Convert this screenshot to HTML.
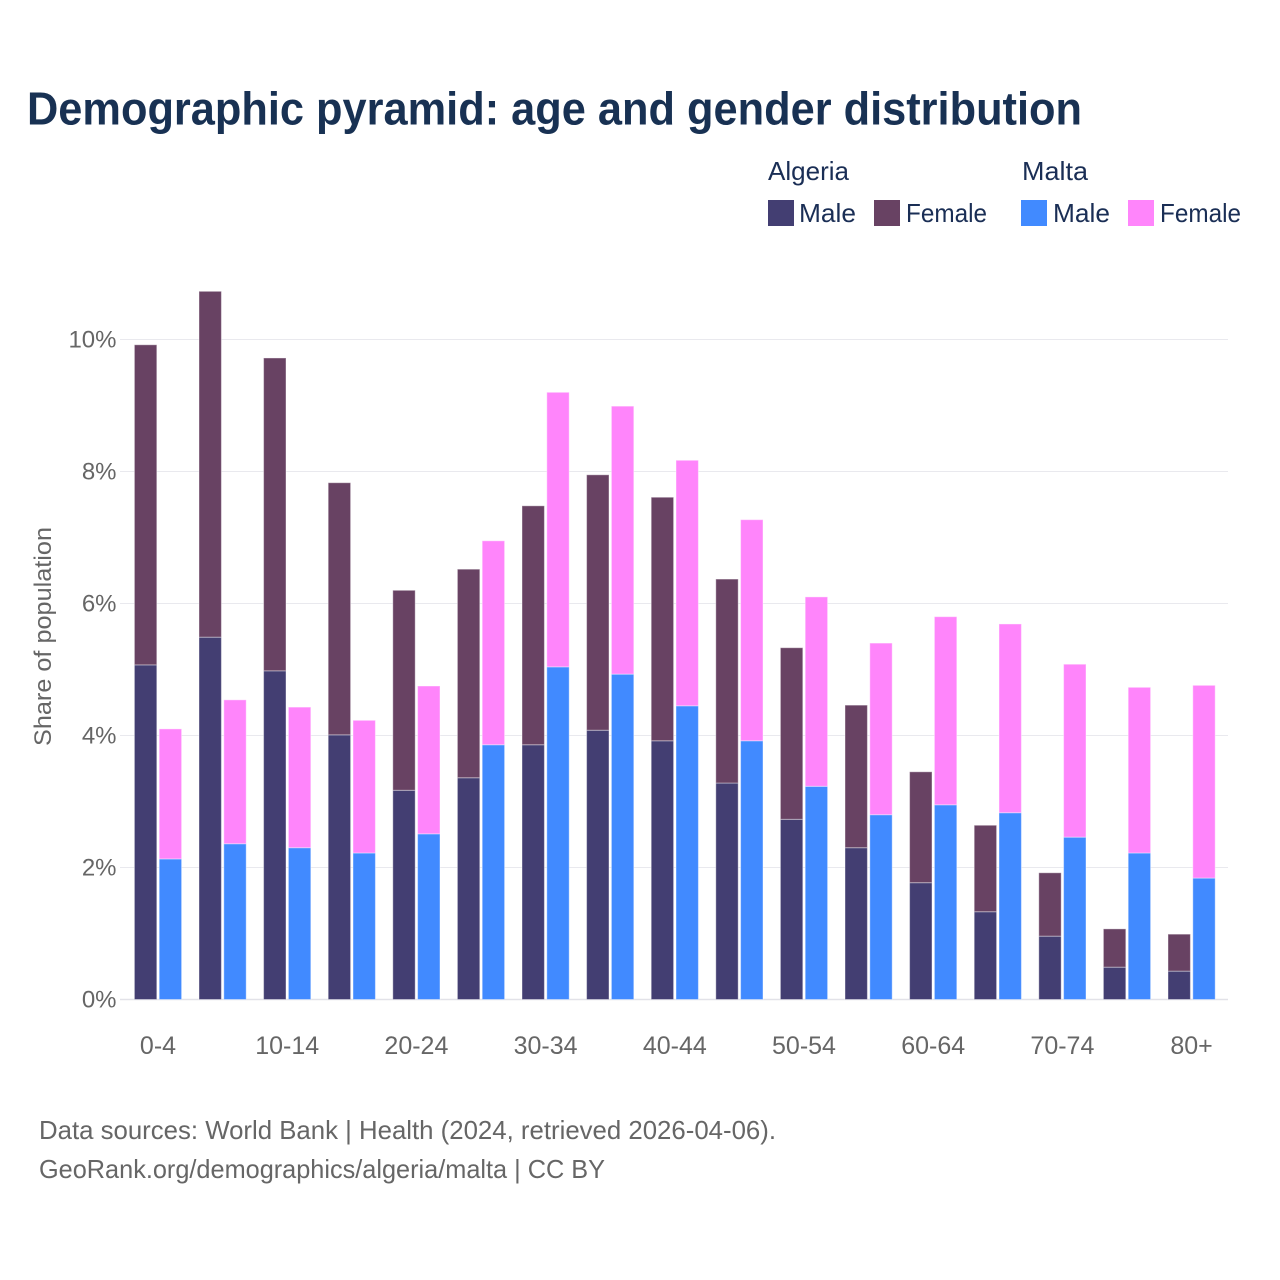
<!DOCTYPE html>
<html lang="en">
<head>
<meta charset="utf-8">
<title>Demographic pyramid</title>
<style>
html,body{margin:0;padding:0;background:#fff;}
svg{display:block;font-family:"Liberation Sans",sans-serif;}
</style>
</head>
<body>
<svg id="chart" xmlns="http://www.w3.org/2000/svg" width="1280" height="1280" viewBox="0 0 1280 1280">
  <rect x="0" y="0" width="1280" height="1280" fill="#ffffff"/>
  <text x="27" y="124.5" font-size="46" font-weight="700" fill="#183153" textLength="1055" lengthAdjust="spacingAndGlyphs">Demographic pyramid: age and gender distribution</text>

  <g font-size="26" fill="#1a2e55">
    <text x="768" y="180" textLength="81" lengthAdjust="spacingAndGlyphs">Algeria</text>
    <text x="1022" y="180" textLength="66" lengthAdjust="spacingAndGlyphs">Malta</text>
    <rect x="768" y="200" width="26" height="26" fill="#433e72"/>
    <text x="799" y="222" textLength="57" lengthAdjust="spacingAndGlyphs">Male</text>
    <rect x="874" y="200" width="26" height="26" fill="#684263"/>
    <text x="906" y="222" textLength="81" lengthAdjust="spacingAndGlyphs">Female</text>
    <rect x="1021" y="200" width="26" height="26" fill="#418aff"/>
    <text x="1053" y="222" textLength="57" lengthAdjust="spacingAndGlyphs">Male</text>
    <rect x="1128" y="200" width="26" height="26" fill="#ff85fb"/>
    <text x="1160" y="222" textLength="81" lengthAdjust="spacingAndGlyphs">Female</text>
  </g>

  <g id="grid"></g>
  <g id="bars"></g>
  <g id="yticks"></g>
  <g id="xticks"></g>

  <text transform="translate(51,636.5) rotate(-90)" text-anchor="middle" font-size="24" fill="#666666" textLength="219" lengthAdjust="spacingAndGlyphs">Share of population</text>

  <text x="39" y="1139" font-size="26" fill="#666666" textLength="737" lengthAdjust="spacingAndGlyphs">Data sources: World Bank | Health (2024, retrieved 2026-04-06).</text>
  <text x="39" y="1178" font-size="26" fill="#666666" textLength="566" lengthAdjust="spacingAndGlyphs">GeoRank.org/demographics/algeria/malta | CC BY</text>
</svg>

<script>
const ageGroups = ["0-4","5-9","10-14","15-19","20-24","25-29","30-34","35-39","40-44","45-49","50-54","55-59","60-64","65-69","70-74","75-79","80+"];
const algeriaMale = [5.07,5.49,4.98,4.01,3.17,3.36,3.86,4.08,3.92,3.28,2.73,2.30,1.77,1.33,0.96,0.49,0.43];
const algeriaFemale = [4.85,5.24,4.74,3.82,3.03,3.16,3.62,3.87,3.69,3.09,2.60,2.16,1.68,1.31,0.96,0.58,0.56];
const maltaMale = [2.13,2.36,2.30,2.22,2.51,3.86,5.04,4.93,4.45,3.92,3.23,2.80,2.95,2.83,2.46,2.22,1.84];
const maltaFemale = [1.97,2.18,2.13,2.01,2.24,3.09,4.16,4.06,3.72,3.35,2.87,2.60,2.85,2.86,2.62,2.51,2.92];
const yTickValues = [0,2,4,6,8,10];
const xTickLabels = ["0-4","10-14","20-24","30-34","40-44","50-54","60-64","70-74","80+"];

const NS = "http://www.w3.org/2000/svg";
const plotLeft = 120;
const plotRight = 1228;
const firstBandCenter = 158;
const bandStep = 64.6;
const barWidth = 22.4;
const barGap = 2.4;
const yZero = 999.5;
const pxPerUnit = 66;

function xScale(i) { return firstBandCenter + i * bandStep; }
function yScale(v) { return yZero - v * pxPerUnit; }

const gridLayer = document.getElementById("grid");
const barLayer = document.getElementById("bars");
const yTickLayer = document.getElementById("yticks");
const xTickLayer = document.getElementById("xticks");

function drawBar(i, offset, base, value, fill, name) {
  const r = document.createElementNS(NS, "rect");
  
  
  const top = yScale(base + value);
  r.setAttribute("x", xScale(i) + offset);
  r.setAttribute("y", top);
  r.setAttribute("width", barWidth);
  r.setAttribute("height", yScale(base) - top);
  r.setAttribute("fill", fill);
  r.setAttribute("stroke", "#ffffff");
  r.setAttribute("stroke-opacity", "0.4");
  r.setAttribute("stroke-width", "1");
  barLayer.appendChild(r);
}

yTickValues.forEach(function (v) {
  const line = document.createElementNS(NS, "line");
  
  
  line.setAttribute("x1", plotLeft);
  line.setAttribute("x2", plotRight);
  line.setAttribute("y1", yScale(v));
  line.setAttribute("y2", yScale(v));
  line.setAttribute("stroke", v === 0 ? "#e2e2e8" : "#e9e9ee");
  line.setAttribute("stroke-width", v === 0 ? "1.5" : "1");
  gridLayer.appendChild(line);

  const label = document.createElementNS(NS, "text");
  
  
  label.setAttribute("x", 116.5);
  label.setAttribute("y", yScale(v) + 8);
  label.setAttribute("text-anchor", "end");
  label.setAttribute("font-size", "24");
  label.setAttribute("fill", "#666666");
  label.textContent = v + "%";
  yTickLayer.appendChild(label);
});

ageGroups.forEach(function (group, i) {
  const leftOffset = -barGap / 2 - barWidth;
  const rightOffset = barGap / 2;
  drawBar(i, leftOffset, 0, algeriaMale[i], "#433e72", "bar-algeria-male-" + group);
  drawBar(i, leftOffset, algeriaMale[i], algeriaFemale[i], "#684263", "bar-algeria-female-" + group);
  drawBar(i, rightOffset, 0, maltaMale[i], "#418aff", "bar-malta-male-" + group);
  drawBar(i, rightOffset, maltaMale[i], maltaFemale[i], "#ff85fb", "bar-malta-female-" + group);

  if (xTickLabels.indexOf(group) !== -1) {
    const label = document.createElementNS(NS, "text");
    
    
    label.setAttribute("x", xScale(i));
    label.setAttribute("y", 1054);
    label.setAttribute("text-anchor", "middle");
    label.setAttribute("font-size", "25");
    label.setAttribute("fill", "#666666");
    label.textContent = group;
    xTickLayer.appendChild(label);
  }
});
</script>
</body>
</html>
